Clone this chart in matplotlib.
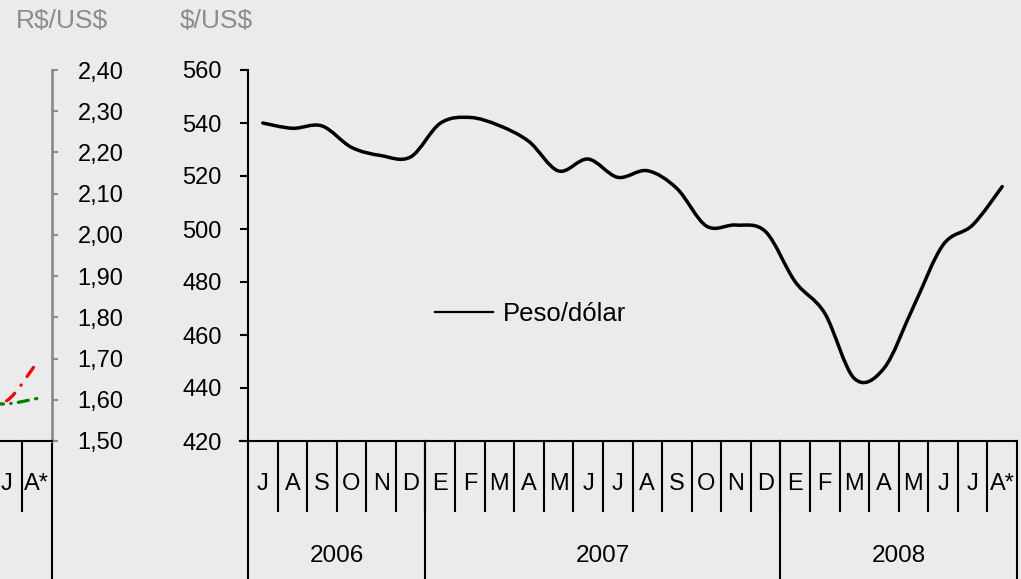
import matplotlib
matplotlib.use("Agg")
import matplotlib.pyplot as plt
from matplotlib.path import Path
from matplotlib.patches import PathPatch
from matplotlib.lines import Line2D
import matplotlib.transforms as mtransforms

# ---- data ----
months = ["J", "A", "S", "O", "N", "D",
          "E", "F", "M", "A", "M", "J", "J", "A", "S", "O", "N", "D",
          "E", "F", "M", "A", "M", "J", "J", "A*"]
years = ["2006", "2007", "2008"]
year_months = [6, 12, 8]

# peso chileno por dolar, jul 2006 - ago 2008
peso = [540.0, 538.0, 538.9, 530.8, 527.7, 527.2,
        539.9, 542.1, 539.0, 533.0, 521.9, 526.4, 519.5, 522.0, 515.3, 501.1, 501.5, 499.0,
        480.1, 468.2, 443.6, 447.4, 470.7, 494.0, 501.5, 516.0]

# real / dolar, solo los ultimos meses quedan visibles en el recorte
real_idx = [23, 24, 25]
real_red = [1.605, 1.597, 1.690]
real_green = [1.595, 1.590, 1.603]

BG = "#ebebeb"
GREY = "#8c8c8c"
FONT = "Liberation Sans"

plt.rcParams["font.family"] = [FONT, "DejaVu Sans"]


def smooth_path(xs, ys):
    # curva suavizada tipo excel (bezier catmull-rom)
    verts = [(xs[0], ys[0])]
    codes = [Path.MOVETO]
    n = len(xs)
    for i in range(n - 1):
        x0, y0 = (xs[i - 1], ys[i - 1]) if i > 0 else (xs[i], ys[i])
        x1, y1 = xs[i], ys[i]
        x2, y2 = xs[i + 1], ys[i + 1]
        x3, y3 = (xs[i + 2], ys[i + 2]) if i + 2 < n else (x2, y2)
        c1 = (x1 + (x2 - x0) / 6.0, y1 + (y2 - y0) / 6.0)
        c2 = (x2 - (x3 - x1) / 6.0, y2 - (y3 - y1) / 6.0)
        verts += [c1, c2, (x2, y2)]
        codes += [Path.CURVE4] * 3
    return Path(verts, codes)


W, H = 1021, 579
fig = plt.figure(figsize=(W / 100, H / 100), dpi=100)
fig.patch.set_facecolor(BG)

y_top, y_bot = 70, 441
x_left, x_right = 248, 1017
ax = fig.add_axes([x_left / W, (H - y_bot) / H, (x_right - x_left) / W, (y_bot - y_top) / H])
ax.set_facecolor(BG)
n = len(months)
ax.set_xlim(0, n)
ax.set_ylim(420, 560)
ax.set_yticks(range(420, 561, 20))
for s in ["top", "right"]:
    ax.spines[s].set_visible(False)
ax.spines["left"].set_linewidth(1.5)
ax.spines["bottom"].set_linewidth(1.5)
ax.tick_params(axis="y", direction="out", length=5.8, width=1.5, pad=13, labelsize=17)
ax.set_xticks([])

xc = [i + 0.5 for i in range(n)]
ax.add_patch(PathPatch(smooth_path(xc, peso), facecolor="none", edgecolor="black",
                       lw=2.5, capstyle="round", joinstyle="round"))

# eje de categorias con meses y años
tr = mtransforms.blended_transform_factory(ax.transData, ax.transAxes)
px = 1.0 / (y_bot - y_top)
ax.plot([-8 * n / (x_right - x_left), 0], [0, 0], color="black", lw=1.5,
        transform=tr, clip_on=False)
for i in range(1, n):
    ax.plot([i, i], [0, -(511 - 441) * px], color="black", lw=1.5, transform=tr, clip_on=False)
for i, m in enumerate(months):
    ax.text(i + 0.5, -(484 - 441) * px, m, ha="center", va="center", fontsize=17,
            transform=tr, clip_on=False)
start = 0
bounds = [0]
for y, k in zip(years, year_months):
    ax.text(start + k / 2, -(556 - 441) * px, y, ha="center", va="center", fontsize=17.5,
            transform=tr, clip_on=False)
    start += k
    bounds.append(start)
for b in bounds:
    ax.plot([b, b], [0, -(H - 441 + 5) * px], color="black", lw=1.5, transform=tr, clip_on=False)

leg = ax.legend([Line2D([], [], color="black", lw=1.6)], ["Peso/dólar"],
                loc="center left", bbox_to_anchor=((435 - x_left) / (x_right - x_left),
                                                   (y_bot - 314) / (y_bot - y_top)),
                frameon=False, fontsize=18.5, handlelength=2.26, handletextpad=0.38,
                borderpad=0, borderaxespad=0)

fig.text(180 / W, 1 - 21 / H, "$/US$", color=GREY, fontsize=19, ha="left", va="center",
         parse_math=False)
fig.text(16 / W, 1 - 21 / H, "R$/US$", color=GREY, fontsize=19, ha="left", va="center",
         parse_math=False)

# grafico de la izquierda (real), solo se ve el final
xl_right = 52
slot = 30.5
ax2 = fig.add_axes([0, (H - y_bot) / H, xl_right / W, (y_bot - y_top) / H])
ax2.set_facecolor(BG)
ax2.set_xlim(n - xl_right / slot, n)
ax2.set_ylim(1.5, 2.4)
ax2.set_yticks([1.5 + 0.1 * k for k in range(10)])
ax2.set_yticklabels([f"{1.5 + 0.1 * k:.2f}".replace(".", ",") for k in range(10)])
ax2.yaxis.tick_right()
for s in ["top", "left"]:
    ax2.spines[s].set_visible(False)
ax2.spines["right"].set_color(GREY)
ax2.spines["right"].set_linewidth(2)
ax2.spines["bottom"].set_linewidth(1.5)
ax2.tick_params(axis="y", direction="out", length=4.5, width=1.5, color=GREY, pad=14,
                labelsize=17)
ax2.set_xticks([])
for lab in ax2.get_yticklabels():
    lab.set_ha("left")

xr = [i + 0.5 for i in real_idx]
ax2.add_patch(PathPatch(smooth_path(xr, real_red), facecolor="none", edgecolor="red",
                        lw=2.3, linestyle=(0, (3.5, 3.2, 0.1, 3.2)), capstyle="round"))
ax2.add_patch(PathPatch(smooth_path(xr, real_green), facecolor="none", edgecolor="green",
                        lw=2.3, linestyle=(0, (3.2, 2.3, 3.2, 2.3, 0.1, 2.3)), capstyle="round"))

tr2 = mtransforms.blended_transform_factory(ax2.transData, ax2.transAxes)
ax2.plot([n - 1, n - 1], [0, -(511 - 441) * px], color="black", lw=1.5, transform=tr2, clip_on=False)
ax2.plot([n, n], [0, -(H - 441 + 5) * px], color="black", lw=1.5, transform=tr2, clip_on=False)
for i in range(n - 2, n):
    ax2.text(i + 0.5, -(484 - 441) * px, months[i], ha="center", va="center", fontsize=17,
             transform=tr2, clip_on=False)

fig.savefig("out.png", dpi=100, facecolor=BG)
